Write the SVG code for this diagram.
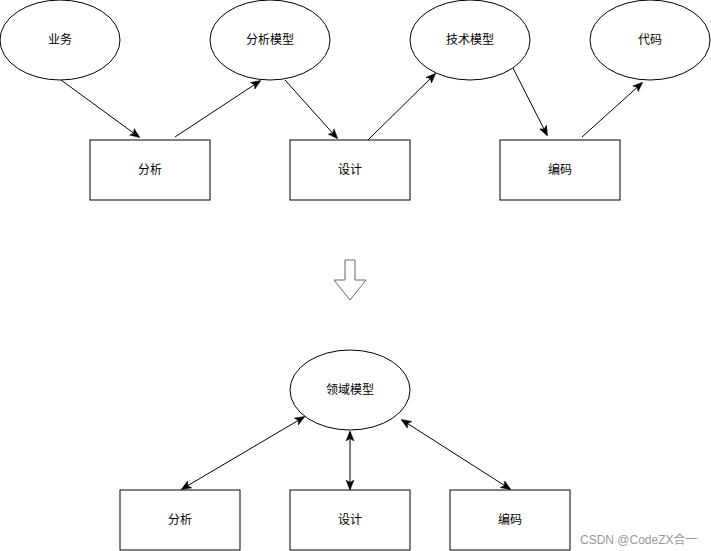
<svg xmlns="http://www.w3.org/2000/svg" width="711" height="551" viewBox="0 0 711 551">
<style>
.shape{fill:#fff;stroke:#000;stroke-width:1}
.lbl{font-family:"Liberation Sans","Noto Sans CJK SC",sans-serif;font-size:12px;fill:#000;text-anchor:middle;dominant-baseline:central}
.edge{stroke:#000;stroke-width:1;fill:none}
.wm{font-family:"Liberation Sans","Noto Sans CJK SC",sans-serif;font-size:12px;fill:#999}
</style>
<defs>
<marker id="arr" viewBox="0 0 10 10" refX="9" refY="5" markerWidth="10" markerHeight="10" markerUnits="userSpaceOnUse" orient="auto-start-reverse">
<path d="M0,1 L10,5 L0,9 L2.5,5 Z" fill="#000" stroke="#000" stroke-width="0.5"/>
</marker>
</defs>
<rect width="711" height="551" fill="#fff"/>
<g id="n-yewu"><ellipse class="shape" cx="60" cy="40" rx="60" ry="40"/><text class="lbl" x="60" y="40">业务</text></g>
<g id="n-fxmx"><ellipse class="shape" cx="270" cy="40" rx="60" ry="40"/><text class="lbl" x="270" y="40">分析模型</text></g>
<g id="n-jsmx"><ellipse class="shape" cx="470" cy="40" rx="60" ry="40"/><text class="lbl" x="470" y="40">技术模型</text></g>
<g id="n-daima"><ellipse class="shape" cx="650" cy="40" rx="60" ry="40"/><text class="lbl" x="650" y="40">代码</text></g>
<g id="n-fenxi1"><rect class="shape" x="90" y="140" width="120" height="60"/><text class="lbl" x="150" y="170">分析</text></g>
<g id="n-sheji1"><rect class="shape" x="290" y="140" width="120" height="60"/><text class="lbl" x="350" y="170">设计</text></g>
<g id="n-bianma1"><rect class="shape" x="500" y="140" width="120" height="60"/><text class="lbl" x="560" y="170">编码</text></g>
<g id="n-down"><path d="M345,260 L355,260 L355,280 L366,280 L350,300 L334,280 L345,280 Z" fill="#fff" stroke="#666" stroke-width="1"/></g>
<g id="n-lymx"><ellipse class="shape" cx="350" cy="390" rx="60" ry="40"/><text class="lbl" x="350" y="390">领域模型</text></g>
<g id="n-fenxi2"><rect class="shape" x="120" y="490" width="120" height="60"/><text class="lbl" x="180" y="520">分析</text></g>
<g id="n-sheji2"><rect class="shape" x="290" y="490" width="120" height="60"/><text class="lbl" x="350" y="520">设计</text></g>
<g id="n-bianma2"><rect class="shape" x="450" y="490" width="120" height="60"/><text class="lbl" x="510" y="520">编码</text></g>
<g id="connectors">
<line class="edge" x1="61" y1="80" x2="139" y2="137" marker-end="url(#arr)"/>
<line class="edge" x1="175" y1="137" x2="260" y2="81" marker-end="url(#arr)"/>
<line class="edge" x1="285" y1="80" x2="337" y2="138" marker-end="url(#arr)"/>
<line class="edge" x1="368" y1="140" x2="435" y2="74" marker-end="url(#arr)"/>
<line class="edge" x1="513" y1="68" x2="547" y2="135" marker-end="url(#arr)"/>
<line class="edge" x1="582" y1="137" x2="642" y2="83" marker-end="url(#arr)"/>
<line class="edge" x1="304" y1="417" x2="182" y2="489" marker-start="url(#arr)" marker-end="url(#arr)"/>
<line class="edge" x1="350" y1="432" x2="350" y2="489" marker-start="url(#arr)" marker-end="url(#arr)"/>
<line class="edge" x1="402" y1="420" x2="510" y2="489" marker-start="url(#arr)" marker-end="url(#arr)"/>
</g>
<text class="wm" x="580" y="544">CSDN @CodeZX合一</text>
</svg>
